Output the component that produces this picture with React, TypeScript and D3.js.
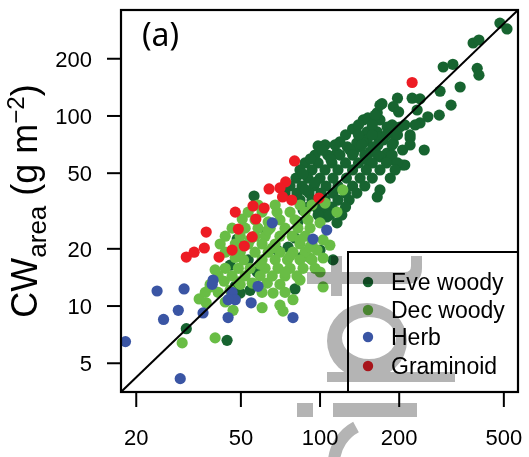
import React from 'react';
import * as d3 from 'd3';

// ---- data (CW vs predicted, log scales) ----
const xTicks = [20, 50, 100, 200, 500];
const yTicks = [5, 10, 20, 50, 100, 200];
const xDomain = [17.5, 566];
const yDomain = [3.53, 361];
const legendLabels = ['Eve woody', 'Dec woody', 'Herb', 'Graminoid'];
const groupColors = ['#176430', '#69bd45', '#3a55a4', '#ed1c24'];

const eveWoody: number[][] = [
  [31.0,7.6],[44.3,6.6],[47.6,12.7],[54.2,12.1],[49.7,11.7],[80.3,12.3],[45.5,16.4],[53.3,17.5],[57.6,15.1],[48.4,22.5],
  [56.1,37.9],[75.6,20.4],[80.3,22.8],[100,19.7],[112,17.5],[116,27.4],[106,29.4],[86.2,32.0],[97.4,32.8],[102.7,31.2],
  [68.6,19.7],[85.4,18.1],[62.4,24.5],[82.4,27.7],
  [483,308],[514,287],[382,242],[402,251],[294,181],[320,187],[396,178],[402,164],[286,135],[341,142],[315,114],[284,101],
  [249,66.2],[210,55.2],[185,47.1],[169,40.8],[165,37.5],[220,76.6],[257,99],[240,91.9],[234,107.5],[224,124],[240,123],
  [197,124],[172,116],[190,112],[199,105],[146,95.3],[152,97.6],[165,104],[169,95.3],[133,85.4],[151,82.4],[165,82.4],
  [180,87.5],[201,87.5],[174,74.8],[190,72.1],[206,66.2],[119,73.0],[127,68.7],[138,72.1],[151,74.8],[116,63.8],[134,63.8],
  [155,64.6],[180,63.8],[98.3,69.6],[169,114],[162,101],[190,81.4],[146,72.1],[159,68.7],[206,55.2],[185,58.7],[169,60.9],
  [151,58.7],[142,68.7],[166,77.5],[130,66.2],
  [95.7,62.3],[107,62.3],[119,62.3],[133,62.3],[148,62.3],[166,62.3],[188,62.3],
  [87.7,56.6],[98.3,56.6],[111,56.6],[125,56.6],[140,56.6],[158,56.6],[179,56.6],[197,56.6],
  [83.9,52.0],[93.2,52.0],[104.5,52.0],[117,52.0],[133,52.0],[150,52.0],[169,52.0],[193,52.0],
  [81.0,47.1],[90.0,47.1],[100,47.1],[112,47.1],[126,47.1],[142,47.1],[158,47.1],
  [76.9,42.8],[85.4,42.8],[94.9,42.8],[105.4,42.8],[117,42.8],[133,42.8],[148,42.8],
  [73.6,39.3],[81.7,39.3],[90.8,39.3],[100.9,39.3],[112,39.3],[125,39.3],[138,39.3],
  [83.9,36.1],[93.2,36.1],[104.5,36.1],[117,36.1],[129,36.1],
  [90.0,33.2],[100,33.2],[111,33.2],[125,33.2],
  [98.3,30.1],[109,30.1],[121,30.1],
  [140,89.7],[158,89.7],[188,89.7],[210,89.7],[230,89.7],
  [125,79.5],[140,79.5],[158,79.5],[179,79.5],[197,79.5],[220,79.5],
  [104.5,70.4],[114,70.4],[144,70.4],[166,70.4],[188,70.4],[220,70.4],
  [92,59.5],[102,66],[110,59],[86,49.5],[96,44.8],[88,40.8],
];

const decWoody: number[][] = [
  [29.9,6.4],[39.9,6.8],[34.7,10.9],[36.9,10.4],[38.2,12.6],[60.2,9.8],[70.4,10.1],[72.3,9.4],[78.9,10.8],[66.3,11.7],
  [102.7,12.6],[100,15.1],[102.7,17.9],[91.6,17.9],[109,20.9],[43.6,10.5],[43.2,13.5],[46.7,9.5],[48.9,13.4],[122,40.8],
  [104.5,34.8],[116,31.2],[90.0,28.4],[100,27.4],[50.6,28.7],[68.6,31.2],[70.4,28.4],[63.5,27.7],[55.2,13.2],[63.0,13.2],
  [102.7,22.3],[97.4,19.7],
  [58.1,34.0],[67.5,34.0],[83.9,34.0],[93.2,34.0],
  [53.3,31.2],[60.2,31.2],[76.9,31.2],[87.7,31.2],
  [56.6,28.4],[80.3,28.4],
  [46.3,25.7],[51.9,25.7],[58.1,25.7],[64.6,25.7],[73.6,25.7],[82.4,25.7],[91.6,25.7],
  [43.6,23.3],[49.7,23.3],[56.6,23.3],[61.8,23.3],[70.4,23.3],[78.3,23.3],[87.7,23.3],
  [41.7,21.2],[47.6,21.2],[53.3,21.2],[60.2,21.2],[67.5,21.2],[83.9,21.2],[93.2,21.2],
  [43.6,19.2],[49.7,19.2],[56.6,19.2],[63.5,19.2],[70.4,19.2],[78.9,19.2],[87.7,19.2],
  [51.2,17.5],[60.2,17.5],[67.5,17.5],[75.2,17.5],[83.9,17.5],[93.2,17.5],
  [43.6,15.8],[48.9,15.8],[54.2,15.8],[61.8,15.8],[69.2,15.8],[76.9,15.8],[86.2,15.8],[95.7,15.8],
  [41.0,14.4],[46.3,14.4],[51.9,14.4],[59.2,14.4],[65.8,14.4],[73.6,14.4],[81.7,14.4],
  [38.2,13.0],[49.7,13.0],[70.4,13.0],
  [36.6,11.8],[41.0,11.8],[60.2,11.8],[73.6,11.8],
  [54.2,22.3],[65.8,20.2],[76.9,18.3],[59.2,16.6],[73.6,15.1],[83.9,13.7],[47.6,18.0],[39.9,15.5],[45.5,12.1],
  [83.9,22.3],[91.6,20.4],[63.5,25.1],
];

const herb: number[][] = [
  [18.2,6.5],[24,12],[30.4,12.3],[39.2,13.7],[38.9,13],[28.9,9.5],[25.4,8.5],[35.9,9.2],[44.7,8.7],[29.4,4.15],
  [46.3,11.8],[47.6,10.8],[44.7,10.8],[54.7,10.4],[58.1,12.7],[78.9,8.7],[65.8,27.4],[94,22.5],[106,25.1],
];

const graminoid: number[][] = [
  [224,150],[80,58],[74,45],[64,41.3],[70.4,41.8],[78,36.1],[72,37.5],[55.6,33.6],[61.3,32.8],[57,28.7],
  [47.6,31.2],[36.9,24.5],[48.9,25.4],[55.2,23.1],[51.5,20.7],[46.3,19.7],[31,18.1],[33.2,19.2],[36.3,20.2],[41.3,18.1],
  [99,37],
];

const groups = [eveWoody, decWoody, herb, graminoid];

const W = 529, H = 457;
const L = 121, R = 518, T = 10, B = 392;

export default function App() {
  const x = d3.scaleLog().domain(xDomain).range([L, R]);
  const y = d3.scaleLog().domain(yDomain).range([B, T]);
  const line = d3.line<number[]>().x(d => x(d[0])).y(d => y(d[1]));
  const refLine = [[xDomain[0], yDomain[0]], [xDomain[1], yDomain[1]]];
  const tickFont = "'Liberation Sans', Arial, Helvetica, sans-serif";
  const legY = [282, 310, 337, 366];

  return (
    <svg width={W} height={H} style={{ position: 'absolute', left: 0, top: 0, background: '#fff' }}>
      <defs>
        <clipPath id="plotclip"><rect x={L} y={T} width={R - L} height={B - T} /></clipPath>
      </defs>
      <rect x={0} y={0} width={W} height={H} fill="#fff" />
      <g clipPath="url(#plotclip)">
        {groups.map((g, gi) => (
          <g key={gi} fill={groupColors[gi]}>
            {g.map((d, i) => <circle key={i} cx={x(d[0])} cy={y(d[1])} r={5.6} />)}
          </g>
        ))}
        <path d={line(refLine) || ''} stroke="#000" strokeWidth={2} fill="none" />
      </g>

      {/* legend */}
      <rect x={348} y={252} width={R - 348} height={B - 252} fill="#fff" stroke="#000" strokeWidth={2} />
      {legendLabels.map((lab, i) => (
        <g key={lab}>
          <circle cx={368} cy={legY[i]} r={5.2} fill={groupColors[i]} />
          <text x={391} y={legY[i] + 8} fontFamily={tickFont} fontSize={23} fill="#000">{lab}</text>
        </g>
      ))}

      {/* frame */}
      <rect x={L} y={T} width={R - L} height={B - T} fill="none" stroke="#000" strokeWidth={2.2} />

      {/* y axis ticks */}
      {yTicks.map(t => (
        <g key={'y' + t}>
          <line x1={L - 14} x2={L} y1={y(t)} y2={y(t)} stroke="#000" strokeWidth={2} />
          <text x={92} y={y(t) + 8} textAnchor="end" fontFamily={tickFont} fontSize={22}>{t}</text>
        </g>
      ))}
      {/* x axis ticks */}
      {xTicks.map(t => (
        <g key={'x' + t}>
          <line x1={x(t)} x2={x(t)} y1={B} y2={B + 15} stroke="#000" strokeWidth={2} />
          <text x={x(t)} y={445} textAnchor="middle" fontFamily={tickFont} fontSize={22}>{t}</text>
        </g>
      ))}

      <text x={142} y={46} fontFamily="'Noto Sans', 'Open Sans', sans-serif" fontSize={32}>(a)</text>

      <text transform="translate(37,201) rotate(-90)" textAnchor="middle" fontFamily={tickFont} fontSize={36}>
        CW<tspan fontSize={26} dy={9}>area</tspan><tspan dy={-9}> (g m</tspan><tspan fontSize={24} dy={-13}>−2</tspan><tspan dy={13}>)</tspan>
      </text>

      {/* grey overlay glyphs */}
      <g fill="#b4b4b4" style={{ mixBlendMode: 'multiply' }}>
        <path d="M307,272 H405 Q411,272 411,266 V256 H422 V268 Q422,284 406,284 H307 Z" />
        <rect x={331} y={256} width={11} height={40} />
        <path fillRule="evenodd" d="M327,341 A40,38 0 1,0 407,341 A40,38 0 1,0 327,341 Z M342,338 A27,21 0 1,0 396,338 A27,21 0 1,0 342,338 Z" />
        <rect x={327} y={372} width={128} height={10} />
        <rect x={297} y={403} width={16} height={14} />
        <rect x={333} y={403} width={84} height={14} />
        <path d="M356,427 A42,42 0 0,0 334,460" fill="none" stroke="#b4b4b4" strokeWidth={12} />
      </g>
    </svg>
  );
}
